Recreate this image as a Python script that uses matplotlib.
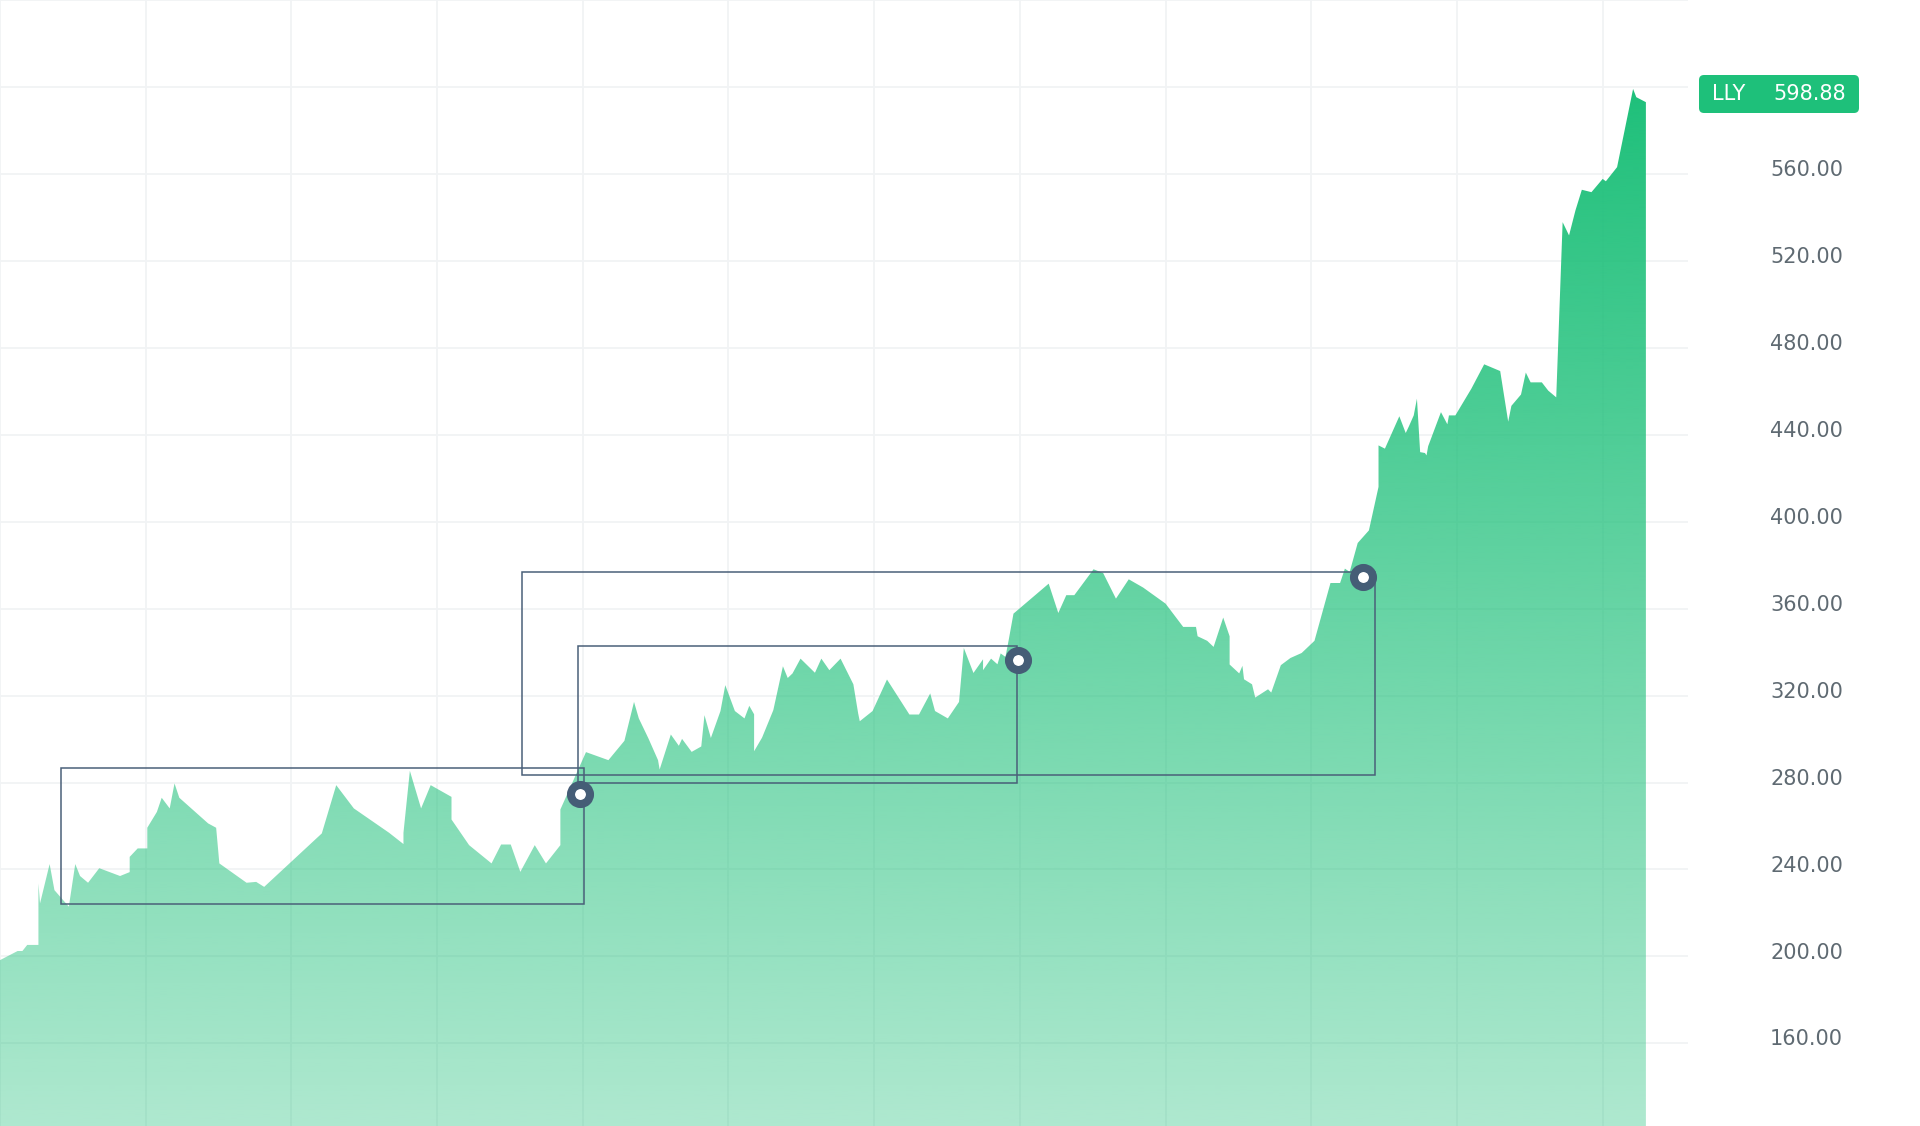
import numpy as np
import matplotlib.pyplot as plt
from matplotlib.patches import Polygon, Rectangle, FancyBboxPatch
from matplotlib.colors import to_rgb

# ================= data =================
# days since start of the series, closing price
days = [0, 11, 14, 17, 24, 24, 25, 31, 34, 43, 47, 50, 55, 62, 75, 81, 81, 86, 92, 92,
        98, 101, 106, 109, 112, 130, 135, 137, 154, 160, 165, 201, 210, 221, 243, 252, 252,
        256, 263, 269, 282, 282, 293, 307, 313, 319, 325, 334, 341, 350, 350, 366, 380,
        390, 396, 399, 405, 411, 412, 419, 424, 426, 432, 438, 440, 444, 450, 453, 459,
        465, 468, 471, 471, 476, 483, 489, 492, 495, 500, 509, 513, 518, 525, 533, 536,
        537, 545, 554, 568, 574, 581, 584, 592, 599, 602, 608, 614, 614, 619, 623, 625,
        628, 630, 633, 655, 661, 666, 671, 683, 689, 697, 705, 714, 728, 739, 747, 748,
        754, 758, 764, 768, 768, 774, 776, 777, 782, 784, 792, 794, 800, 806, 813, 821,
        831, 837, 840, 843, 848, 855, 861, 861, 865, 874, 878, 880, 883, 885, 887, 890,
        891, 892, 900, 904, 905, 909, 919, 927, 937, 942, 944, 950, 953, 956, 963, 967,
        972, 976, 980, 984, 988, 994, 1001, 1003, 1010, 1020, 1022, 1028]
price = [198.3, 202.5, 202.5, 205.3, 205.3, 233.6, 224.4, 242.5, 230.5, 222.9, 242.5, 237.0,
         233.9, 240.6, 237.0, 238.8, 245.8, 249.7, 249.7, 259.2, 266.5, 273.0, 268.1, 279.6,
         273.0, 261.2, 259.2, 242.8, 233.9, 234.3, 232.0, 256.6, 278.8, 268.1, 256.9, 251.7,
         256.9, 285.4, 268.1, 278.8, 273.4, 263.0, 251.2, 242.8, 251.5, 251.5, 238.9, 251.2,
         242.8, 251.2, 267.6, 294.0, 290.3, 299.2, 317.1, 309.5, 300.3, 290.3, 286.0, 302.1,
         296.9, 300.1, 294.1, 296.6, 311.0, 300.5, 312.9, 324.8, 312.9, 309.5, 315.3, 311.4,
         294.4, 300.7, 313.3, 333.5, 328.1, 330.2, 337.0, 330.5, 337.0, 331.7, 337.0, 325.2,
         311.8, 308.2, 312.9, 327.4, 311.3, 311.3, 321.0, 312.9, 309.5, 317.1, 341.9, 330.4,
         336.7, 331.7, 337.0, 334.4, 339.4, 337.8, 345.5, 357.7, 371.5, 358.0, 366.2, 366.2,
         378.1, 376.4, 364.6, 373.5, 369.7, 362.3, 351.6, 351.6, 347.3, 345.2, 342.4, 355.9,
         347.3, 334.3, 330.2, 333.7, 327.5, 325.2, 319.1, 322.9, 321.4, 334.0, 337.3, 339.6,
         345.2, 371.8, 371.8, 378.4, 376.9, 390.2, 396.0, 416.0, 435.1, 433.6, 448.5, 440.8,
         443.9, 448.9, 456.6, 432.0, 431.6, 430.5, 434.7, 450.4, 444.8, 448.9, 448.9, 461.2,
         472.4, 469.3, 446.0, 453.3, 458.5, 468.6, 464.1, 464.1, 460.3, 457.2, 537.8, 531.7,
         543.2, 552.7, 551.6, 557.7, 556.6, 563.1, 599.1, 595.3, 593.0]

ticker = "LLY"
last_price = 598.88

# consolidation boxes: (start day, end day, low, high)
box_start = [38, 361, 326]
box_end = [365, 635, 859]
box_low = [224.1, 279.7, 283.5]
box_high = [286.5, 342.6, 376.9]

# breakout markers
break_day = [362, 636, 851]
break_price = [274.6, 336.6, 374.6]

y_ticks = [160, 200, 240, 280, 320, 360, 400, 440, 480, 520, 560]

GREEN = '#1ec07a'
SLATE = '#455d76'
Y_MIN, Y_MAX = 122.0, 639.7
X_MAX = 1054.3

# ================= figure =================
fig = plt.figure(figsize=(19.2, 11.26), dpi=100)
ax = fig.add_axes([0, 0, 1688 / 1920, 1])
ax.set_xlim(0, X_MAX)
ax.set_ylim(Y_MIN, Y_MAX)
for s in ax.spines.values():
    s.set_visible(False)

# grid (behind the area, shows faintly through its transparent part)
ax.set_xticks(np.arange(0, X_MAX, 91))
ax.set_yticks(np.arange(160, 641, 40))
ax.tick_params(left=False, bottom=False, labelleft=False, labelbottom=False)
ax.set_axisbelow(True)
ax.grid(True, color='#f1f3f5', lw=1.3, zorder=0)

# area fill with a vertical gradient clipped to the price outline
verts = [(days[0], Y_MIN)] + list(zip(days, price)) + [(days[-1], Y_MIN)]
area = Polygon(verts, closed=True, facecolor='none', edgecolor='none')
ax.add_patch(area)
alpha = np.linspace(0.36, 1.0, 256).reshape(-1, 1)
rgba = np.zeros((256, 1, 4))
rgba[..., :3] = to_rgb(GREEN)
rgba[..., 3] = alpha
im = ax.imshow(rgba, extent=[0, days[-1], Y_MIN, max(price)], origin='lower',
               aspect='auto', zorder=1, interpolation='bilinear')
im.set_clip_path(area)

# consolidation boxes and breakout points
for x0, x1, lo, hi in zip(box_start, box_end, box_low, box_high):
    ax.add_patch(Rectangle((x0, lo), x1 - x0, hi - lo, fill=False,
                           edgecolor='#4a6079', lw=1.1, zorder=3))
ax.plot(break_day, break_price, 'o', ms=13.7, mfc='white', mec=SLATE, mew=5.8,
        ls='none', zorder=4)

# price axis labels on the right
ytrans = ax.get_yaxis_transform()
for v in y_ticks:
    ax.text(1843 / 1688, v + 1.8, f"{v:.2f}", transform=ytrans, ha='right', va='center',
            fontsize=15, color='#5f6a72')

# last price badge
badge = FancyBboxPatch((16.99, 10.13), 1.60, 0.38, boxstyle="round,pad=0,rounding_size=0.05",
                       transform=fig.dpi_scale_trans, facecolor=GREEN, edgecolor='none')
fig.patches.append(badge)
fig.text(17.12, 10.32, ticker, transform=fig.dpi_scale_trans, ha='left', va='center',
         fontsize=15, color='white')
fig.text(18.46, 10.32, f"{last_price:.2f}", transform=fig.dpi_scale_trans, ha='right',
         va='center', fontsize=15, color='white')

fig.savefig("out.png", dpi=100)
plt.close(fig)
